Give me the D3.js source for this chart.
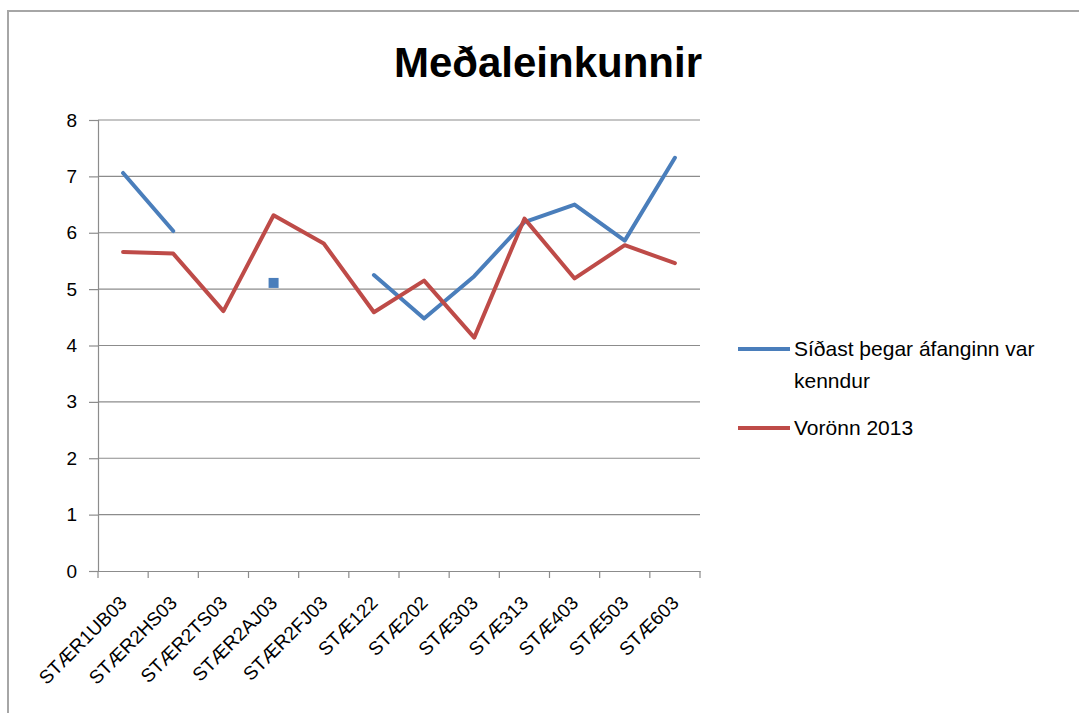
<!DOCTYPE html>
<html>
<head>
<meta charset="utf-8">
<script src="https://cdn.jsdelivr.net/npm/d3@7"></script>
<style>
  body { margin: 0; background: #fff; }
  svg { display: block; font-family: "Liberation Sans", Arial, sans-serif; }
</style>
</head>
<body>
<svg width="1079" height="713"></svg>
<script>
// categories (courses)
const courses = ["STÆR1UB03", "STÆR2HS03", "STÆR2TS03", "STÆR2AJ03", "STÆR2FJ03", "STÆ122",
                 "STÆ202", "STÆ303", "STÆ313", "STÆ403", "STÆ503", "STÆ603"];
// last time the course was taught (gaps = null)
const lastTaught = [7.06, 6.03, null, 5.11, null, 5.25, 4.48, 5.23, 6.19, 6.50, 5.86, 7.33];
// spring 2013
const spring2013 = [5.66, 5.63, 4.61, 6.31, 5.81, 4.59, 5.15, 4.14, 6.25, 5.19, 5.78, 5.46];
const yTicks = [0, 1, 2, 3, 4, 5, 6, 7, 8];
const seriesNames = ["Síðast þegar áfanginn var kenndur", "Vorönn 2013"];
const seriesColors = ["#4a7ebb", "#be4b48"];

const svg = d3.select("svg");

// outer chart border
svg.append("path")
  .attr("d", "M8,713 L8,11 L1079,11")
  .attr("fill", "none")
  .attr("stroke", "#a6a6a6")
  .attr("stroke-width", 2);

const plotLeft = 98, plotRight = 700, plotTop = 120, plotBottom = 571;

const x = d3.scaleBand().domain(courses).range([plotLeft, plotRight]);
const y = d3.scaleLinear().domain([0, 8]).range([plotBottom, plotTop]);

// title
svg.append("text")
  .attr("x", 548)
  .attr("y", 77)
  .attr("text-anchor", "middle")
  .attr("font-size", "42px")
  .attr("font-weight", "bold")
  .attr("fill", "#000")
  .text("Meðaleinkunnir");

// gridlines
svg.append("g").selectAll("line").data(yTicks.slice(1)).enter().append("line")
  .attr("x1", plotLeft).attr("x2", plotRight)
  .attr("y1", d => y(d)).attr("y2", d => y(d))
  .attr("stroke", "#8c8c8c").attr("stroke-width", 1.2);

// y axis
const yAxis = svg.append("g")
  .attr("transform", `translate(${plotLeft},0)`)
  .call(d3.axisLeft(y).tickValues(yTicks).tickSize(9).tickPadding(12));
yAxis.select(".domain").attr("stroke", "#8c8c8c").attr("stroke-width", 1.2);
yAxis.selectAll(".tick line").attr("stroke", "#8c8c8c").attr("stroke-width", 1.2);
yAxis.selectAll(".tick text").attr("font-size", "19px").attr("fill", "#000")
  .attr("font-family", "Liberation Sans, Arial, sans-serif");

// x axis
const xAxis = svg.append("g")
  .attr("transform", `translate(0,${plotBottom})`)
  .call(d3.axisBottom(x).tickSize(0).tickPadding(0));
xAxis.select(".domain").attr("stroke", "#8c8c8c").attr("stroke-width", 1.2);
// tick marks at band boundaries
xAxis.selectAll(".bound").data(courses.concat([null])).enter().append("line")
  .attr("class", "bound")
  .attr("x1", (d, i) => plotLeft + i * x.bandwidth())
  .attr("x2", (d, i) => plotLeft + i * x.bandwidth())
  .attr("y1", 0).attr("y2", 7)
  .attr("stroke", "#8c8c8c").attr("stroke-width", 1.2);
xAxis.selectAll(".tick text")
  .attr("font-size", "19px")
  .attr("fill", "#000")
  .attr("font-family", "Liberation Sans, Arial, sans-serif")
  .attr("text-anchor", "end")
  .attr("dy", "0")
  .attr("y", 0)
  .attr("transform", "translate(5,33) rotate(-45)");

// series lines
const line = d3.line()
  .defined(d => d != null)
  .x((d, i) => x(courses[i]) + x.bandwidth() / 2)
  .y(d => y(d));

[lastTaught, spring2013].forEach((vals, s) => {
  svg.append("path")
    .datum(vals)
    .attr("fill", "none")
    .attr("stroke", seriesColors[s])
    .attr("stroke-width", 4)
    .attr("stroke-linejoin", "round")
    .attr("stroke-linecap", "round")
    .attr("d", line);

  // isolated points are shown as square markers
  const isolated = vals.map((v, i) => ({v, i}))
    .filter(p => p.v != null && vals[p.i - 1] == null && vals[p.i + 1] == null);
  svg.selectAll(null).data(isolated).enter().append("rect")
    .attr("x", p => x(courses[p.i]) + x.bandwidth() / 2 - 5)
    .attr("y", p => y(p.v) - 5)
    .attr("width", 10).attr("height", 10)
    .attr("fill", seriesColors[s]);
});

// legend
const legend = svg.append("g").attr("transform", "translate(738,0)");
const legendRows = [{y: 349, lines: ["Síðast þegar áfanginn var", "kenndur"]},
                    {y: 428, lines: ["Vorönn 2013"]}];
legendRows.forEach((r, s) => {
  legend.append("line")
    .attr("x1", 0).attr("x2", 52)
    .attr("y1", r.y).attr("y2", r.y)
    .attr("stroke", seriesColors[s]).attr("stroke-width", 4);
  const t = legend.append("text")
    .attr("x", 56).attr("y", r.y + 7)
    .attr("font-size", "21px").attr("fill", "#000");
  r.lines.forEach((ln, k) => {
    t.append("tspan").attr("x", 56).attr("dy", k === 0 ? 0 : 32).text(ln);
  });
});
</script>
</body>
</html>
